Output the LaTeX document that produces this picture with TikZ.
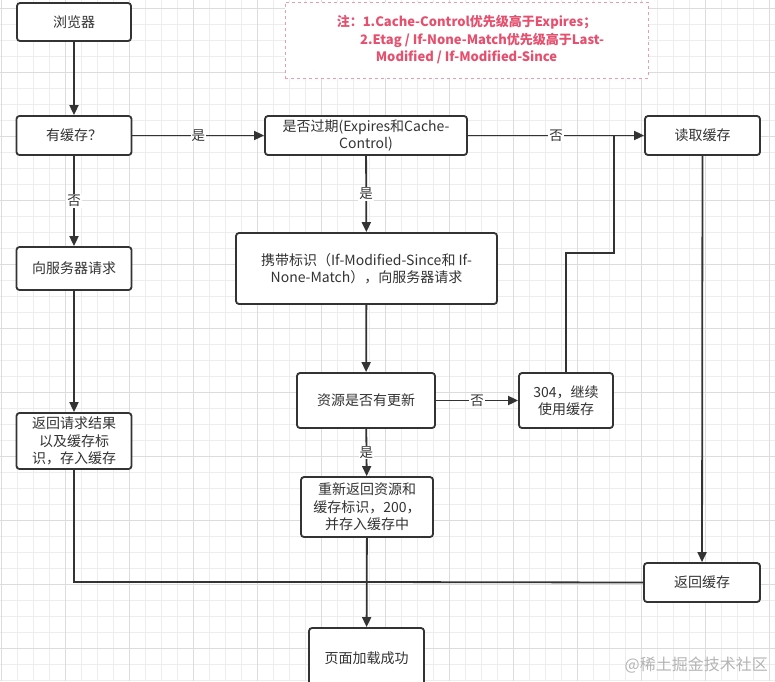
\documentclass[tikz,border=0pt]{standalone}
\usepackage{fontspec}
\setmainfont{Noto Sans CJK SC}
\usetikzlibrary{arrows.meta}
\definecolor{ink}{HTML}{333333}
\definecolor{notered}{HTML}{E5506E}
\definecolor{noteline}{HTML}{EE9AAE}
\definecolor{gridminor}{HTML}{EDEDED}
\definecolor{gridmajor}{HTML}{DCDCDC}
\definecolor{wm}{HTML}{B4B4B4}
\begin{document}
\begin{tikzpicture}[x=1pt,y=-1pt,
  box/.style={draw=ink, line width=1.8pt, rounded corners=3pt, fill=white, text=ink, align=center, inner sep=0pt, font=\fontsize{14}{17.5}\selectfont},
  conn/.style={draw=ink, line width=1.8pt},
  arr/.style={conn, -{Triangle[length=10pt,width=9pt]}},
  lbl/.style={fill=white, text=ink, inner sep=1pt, font=\fontsize{13.5}{15}\selectfont},
  gminor/.style={draw=gridminor, line width=0.6pt},
  gmajor/.style={draw=gridmajor, line width=0.8pt},
]
\useasboundingbox (0,0) rectangle (775,681);
\clip (0,0) rectangle (775,681);
\fill[white] (0,0) rectangle (775,681);
\foreach \i in {0,...,48} \draw[gminor] ({1+16*\i},0) -- ({1+16*\i},681);
\foreach \i in {0,...,42} \draw[gminor] (0,{8+16*\i}) -- (775,{8+16*\i});
\foreach \i in {0,...,12} \draw[gmajor] ({1+64*\i},0) -- ({1+64*\i},681);
\foreach \i in {0,...,10} \draw[gmajor] (0,{8+64*\i}) -- (775,{8+64*\i});

% note
\node[draw=noteline, dashed, line width=0.9pt, fill=white, minimum width=363pt, minimum height=76pt, text=notered, font=\bfseries\fontsize{13}{17.5}\selectfont, align=center, inner sep=0pt] (note) at (466.5,40)
  {注：1.Cache-Control优先级高于Expires；\\\hspace*{2.4em}2.Etag / If-None-Match优先级高于Last-\\Modified / If-Modified-Since};

% boxes
\node[box, minimum width=114pt, minimum height=38pt] (browser) at (74,22) {浏览器};
\node[box, minimum width=115pt, minimum height=39pt] (hascache) at (74,135.5) {有缓存？};
\node[box, minimum width=202pt, minimum height=39pt] (expired) at (366,135.5) {是否过期(Expires和Cache-\\Control)};
\node[box, minimum width=115pt, minimum height=39pt] (readcache) at (702.5,135.5) {读取缓存};
\node[box, minimum width=261pt, minimum height=71pt] (carry) at (366.5,268.5) {携带标识（If-Modified-Since和 If-\\None-Match），向服务器请求};
\node[box, minimum width=115pt, minimum height=43pt] (request) at (74,268.5) {向服务器请求};
\node[box, minimum width=138pt, minimum height=55pt] (update) at (366,400.5) {资源是否有更新};
\node[box, minimum width=94pt, minimum height=55pt] (s304) at (566,400.5) {304，继续\\使用缓存};
\node[box, minimum width=115pt, minimum height=56pt] (returnreq) at (74,441) {返回请求结果\\以及缓存标\\识，存入缓存};
\node[box, minimum width=132pt, minimum height=60pt] (renew) at (367,507) {重新返回资源和\\缓存标识，200，\\并存入缓存中};
\node[box, minimum width=116pt, minimum height=39pt] (returncache) at (702,582.5) {返回缓存};
\node[box, minimum width=115pt, minimum height=60pt] (success) at (366.5,658) {页面加载成功};

% watermark
\node[text=wm, font=\fontsize{16}{18}\selectfont, anchor=east, inner sep=0pt] (wmark) at (768,665) {@稀土掘金技术社区};

% coordinates
\coordinate (J) at (366,582);
\coordinate (P1) at (566,253);
\coordinate (P2) at (614,253);
\coordinate (Q) at (614,135.5);

% connectors
\draw[arr] (browser) -- (hascache);
\draw[arr] (hascache) -- node[lbl] (lyes1) {是} (expired);
\draw[arr] (hascache) -- node[lbl] (lno1) {否} (request);
\draw[arr] (expired) -- node[lbl] (lno2) {否} (readcache);
\draw[arr] (expired) -- node[lbl] (lyes2) {是} (carry);
\draw[arr] (carry) -- (update);
\draw[arr] (update) -- node[lbl] (lno3) {否} (s304);
\draw[arr] (update) -- node[lbl] (lyes3) {是} (renew);
\draw[conn] (s304.north) -- (P1) -- (P2) -- (Q);
\draw[arr] (request) -- (returnreq);
\draw[conn] (returnreq.south) |- (J);
\draw[conn] (returncache.west) -- (J);
\draw[arr] (renew) -- (success);
\draw[arr] (readcache) -- (returncache);
\end{tikzpicture}
\end{document}
